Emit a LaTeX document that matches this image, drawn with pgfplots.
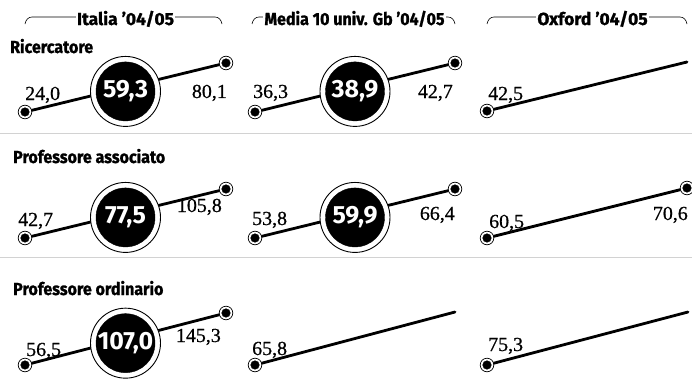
\documentclass[border=0pt]{standalone}
\usepackage{fontspec}
\setmainfont{Liberation Serif}
\newfontfamily\rhf[FakeStretch=0.92,FakeBold=1.2]{Fira Sans}
\newfontfamily\chf[FakeBold=1.2]{Fira Sans}
\newfontfamily\chfc[FakeStretch=0.92,FakeBold=1.2]{Fira Sans}
\newfontfamily\numf{Fira Sans}
\newfontfamily\lblf[FakeBold=0.6]{Liberation Serif}
\usepackage{pgfplots}
\pgfplotsset{compat=1.18}
\newcommand\hdfont{\rhf\bfseries\fontsize{17.5}{17.5}\selectfont}
\newcommand\chfont{\chf\bfseries\fontsize{17.5}{17.5}\selectfont}
\newcommand\chfontc{\chfc\bfseries\fontsize{17.5}{17.5}\selectfont}
\newcommand\bignum{\numf\bfseries\fontsize{25}{25}\selectfont}
\newcommand\lblfont{\lblf\fontsize{20}{20}\selectfont}
\pgfplotsset{
  panel/.style={scale only axis, hide axis, clip=false, anchor=south west, xmin=0, xmax=1,
    /pgf/number format/fixed, /pgf/number format/fixed zerofill, /pgf/number format/precision=1,
    /pgf/number format/use comma, /pgf/number format/assume math mode=true},
  ln/.style={black, line width=2.8bp, line cap=round},
  ept/.style={only marks, mark=*, mark size=6.8bp, mark options={fill=white, draw=black, line width=0.7bp}},
  eptin/.style={only marks, mark=*, mark size=4.3bp, mark options={fill=black, draw=none}},
  bigout/.style={only marks, mark=*, mark size=35bp, mark options={fill=white, draw=black, line width=0.9bp}},
  bigin/.style={only marks, mark=*, mark size=29.5bp, mark options={fill=black, draw=none},
    point meta=explicit, nodes near coords,
    every node near coord/.style={anchor=center, text=white, font=\bignum, inner sep=0pt}},
  lbl/.style={draw=none, point meta=explicit, nodes near coords,
    every node near coord/.style={font=\lblfont, inner sep=0pt, #1}},
}
\newcommand\bracket[5]{%
  \draw[line width=0.6bp] (#1bp,-24bp) to[out=80,in=180] (#1bp+7bp,-17bp) -- (#2bp-7bp,-17bp) to[out=0,in=100] (#2bp,-24bp);
  \node[fill=white, inner xsep=1.5bp, inner ysep=1bp, anchor=base, font=#5] at (#3bp,-25bp) {#4};}
\begin{document}
\begin{tikzpicture}
\useasboundingbox (0,0) rectangle (692bp,-380bp);
\draw[gray!35, line width=0.8bp] (0,-133bp) -- (692bp,-133bp);
\draw[gray!35, line width=0.8bp] (0,-257bp) -- (692bp,-257bp);
\bracket{25}{222}{125.5}{Italia ’04/05}{\chfont}
\bracket{252}{455}{354.5}{Media 10 univ. Gb ’04/05}{\chfontc}
\bracket{487}{687}{592.5}{Oxford ’04/05}{\chfont}
\node[anchor=base west, inner sep=0pt, font=\hdfont] at (10bp,-53bp) {Ricercatore};
\node[anchor=base west, inner sep=0pt, font=\hdfont] at (13bp,-163bp) {Professore associato};
\node[anchor=base west, inner sep=0pt, font=\hdfont] at (13bp,-295bp) {Professore ordinario};

% ---------- Row 1: Ricercatore
\begin{axis}[panel, at={(25bp,-112bp)}, width=201bp, height=49bp, ymin=24.0, ymax=80.1]
\addplot[ln] coordinates {(0,24.0) (1,80.1)};
\addplot[bigout] coordinates {(0.5,47.56)};
\addplot[bigin] coordinates {(0.5,47.56) [59.3]};
\addplot[ept] coordinates {(0,24.0) (1,80.1)};
\addplot[eptin] coordinates {(0,24.0) (1,80.1)};
\addplot[lbl={anchor=base west, xshift=0bp, yshift=12bp}] coordinates {(0,24.0) [24.0]};
\addplot[lbl={anchor=base east, xshift=1bp, yshift=-35bp}] coordinates {(1,80.1) [80.1]};
\end{axis}
\begin{axis}[panel, at={(255bp,-112bp)}, width=200bp, height=49bp, ymin=36.3, ymax=42.7]
\addplot[ln] coordinates {(0,36.3) (1,42.7)};
\addplot[bigout] coordinates {(0.5,38.99)};
\addplot[bigin] coordinates {(0.5,38.99) [38.9]};
\addplot[ept] coordinates {(0,36.3) (1,42.7)};
\addplot[eptin] coordinates {(0,36.3) (1,42.7)};
\addplot[lbl={anchor=base west, xshift=-2bp, yshift=14bp}] coordinates {(0,36.3) [36.3]};
\addplot[lbl={anchor=base east, xshift=-2bp, yshift=-35bp}] coordinates {(1,42.7) [42.7]};
\end{axis}
\begin{axis}[panel, at={(487bp,-111bp)}, width=200bp, height=49bp, ymin=0, ymax=1]
\addplot[ln] coordinates {(0,0) (1,1)};
\addplot[ept] coordinates {(0,0)};
\addplot[eptin] coordinates {(0,0)};
\addplot[lbl={anchor=base west, xshift=1bp, yshift=11bp}] coordinates {(0,0) [42.5]};
\end{axis}

% ---------- Row 2: Professore associato
\begin{axis}[panel, at={(25bp,-238bp)}, width=201bp, height=49bp, ymin=42.7, ymax=105.8]
\addplot[ln] coordinates {(0,42.7) (1,105.8)};
\addplot[bigout] coordinates {(0.5,69.20)};
\addplot[bigin] coordinates {(0.5,69.20) [77.5]};
\addplot[ept] coordinates {(0,42.7) (1,105.8)};
\addplot[eptin] coordinates {(0,42.7) (1,105.8)};
\addplot[lbl={anchor=base west, xshift=-7bp, yshift=12bp}] coordinates {(0,42.7) [42.7]};
\addplot[lbl={anchor=base east, xshift=-4bp, yshift=-23bp}] coordinates {(1,105.8) [105.8]};
\end{axis}
\begin{axis}[panel, at={(255bp,-238bp)}, width=200bp, height=49bp, ymin=53.8, ymax=66.4]
\addplot[ln] coordinates {(0,53.8) (1,66.4)};
\addplot[bigout] coordinates {(0.5,59.09)};
\addplot[bigin] coordinates {(0.5,59.09) [59.9]};
\addplot[ept] coordinates {(0,53.8) (1,66.4)};
\addplot[eptin] coordinates {(0,53.8) (1,66.4)};
\addplot[lbl={anchor=base west, xshift=-3bp, yshift=13bp}] coordinates {(0,53.8) [53.8]};
\addplot[lbl={anchor=base east, xshift=0bp, yshift=-31bp}] coordinates {(1,66.4) [66.4]};
\end{axis}
\begin{axis}[panel, at={(487bp,-238bp)}, width=200bp, height=50bp, ymin=60.5, ymax=70.6]
\addplot[ln] coordinates {(0,60.5) (1,70.6)};
\addplot[ept] coordinates {(0,60.5) (1,70.6)};
\addplot[eptin] coordinates {(0,60.5) (1,70.6)};
\addplot[lbl={anchor=base west, xshift=2bp, yshift=10bp}] coordinates {(0,60.5) [60.5]};
\addplot[lbl={anchor=base east, xshift=1bp, yshift=-32bp}] coordinates {(1,70.6) [70.6]};
\end{axis}

% ---------- Row 3: Professore ordinario
\begin{axis}[panel, at={(25bp,-365bp)}, width=201bp, height=52bp, ymin=56.5, ymax=145.3]
\addplot[ln] coordinates {(0,56.5) (1,145.3)};
\addplot[bigout] coordinates {(0.5,93.80)};
\addplot[bigin] coordinates {(0.5,93.80) [107.0]};
\addplot[ept] coordinates {(0,56.5) (1,145.3)};
\addplot[eptin] coordinates {(0,56.5) (1,145.3)};
\addplot[lbl={anchor=base west, xshift=1bp, yshift=9bp}] coordinates {(0,56.5) [56.5]};
\addplot[lbl={anchor=base east, xshift=-5bp, yshift=-29bp}] coordinates {(1,145.3) [145.3]};
\end{axis}
\begin{axis}[panel, at={(255bp,-365bp)}, width=200bp, height=53bp, ymin=0, ymax=1]
\addplot[ln] coordinates {(0,0) (1,1)};
\addplot[ept] coordinates {(0,0)};
\addplot[eptin] coordinates {(0,0)};
\addplot[lbl={anchor=base west, xshift=-3bp, yshift=10bp}] coordinates {(0,0) [65.8]};
\end{axis}
\begin{axis}[panel, at={(487bp,-365bp)}, width=201bp, height=53bp, ymin=0, ymax=1]
\addplot[ln] coordinates {(0,0) (1,1)};
\addplot[ept] coordinates {(0,0)};
\addplot[eptin] coordinates {(0,0)};
\addplot[lbl={anchor=base west, xshift=1bp, yshift=14bp}] coordinates {(0,0) [75.3]};
\end{axis}
\end{tikzpicture}
\end{document}
